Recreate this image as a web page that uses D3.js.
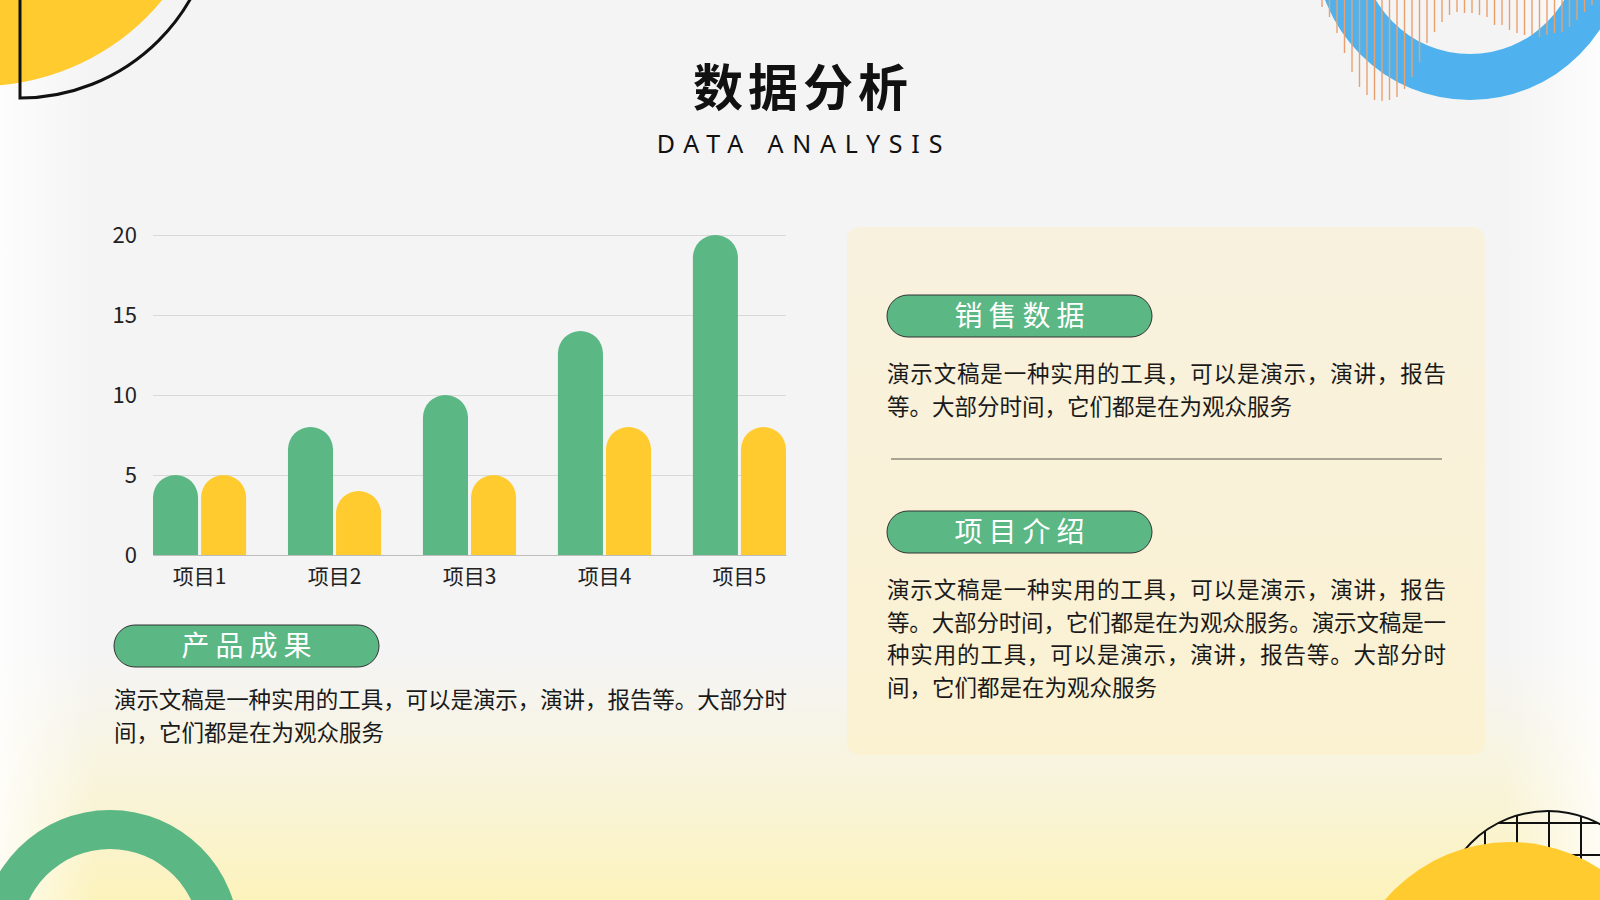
<!DOCTYPE html>
<html>
<head>
<meta charset="utf-8">
<script src="https://cdn.jsdelivr.net/npm/d3@7"></script>
<style>
  html, body { margin: 0; padding: 0; background: #f5f5f5; }
  svg { display: block; }
</style>
</head>
<body>
<svg width="1600" height="900"></svg>
<script>
"use strict";

// chart data
var categories = ["项目1", "项目2", "项目3", "项目4", "项目5"];
var seriesKeys = ["系列1", "系列2"];
var series1 = [5, 8, 10, 14, 20];
var series2 = [5, 4, 5, 8, 8];
var yTicks = [0, 5, 10, 15, 20];

// decorative stripe bottoms (top right corner)
var stripeEnds = [7, 17, 33, 53, 72, 87, 95, 100, 101, 100, 97, 89, 77, 62, 43, 32, 22, 15, 12, 13,
  13, 15, 17, 25, 25, 30, 33, 35, 35, 37, 35, 33, 32, 27, 20, 12, 5];

var para = "演示文稿是一种实用的工具，可以是演示，演讲，报告等。大部分时间，它们都是在为观众服务";

var green = "#5bb784", yellow = "#ffcb2f", blue = "#4fb2ee";
var cjk = "'Noto Sans CJK SC', 'Noto Sans', sans-serif";

var svg = d3.select("svg");

/* background */
var defs = svg.append("defs");
var bg = defs.append("linearGradient").attr("id", "bgGrad")
  .attr("x1", 0).attr("y1", 0).attr("x2", 0).attr("y2", 1);
bg.append("stop").attr("offset", "0.72").attr("stop-color", "#fff6c0").attr("stop-opacity", 0);
bg.append("stop").attr("offset", "1").attr("stop-color", "#fff2a8").attr("stop-opacity", 0.75);

var side = defs.append("linearGradient").attr("id", "sideGrad")
  .attr("x1", 0).attr("y1", 0).attr("x2", 1).attr("y2", 0);
side.append("stop").attr("offset", "0").attr("stop-color", "#ffffff").attr("stop-opacity", 0.8);
side.append("stop").attr("offset", "0.06").attr("stop-color", "#ffffff").attr("stop-opacity", 0);
side.append("stop").attr("offset", "0.94").attr("stop-color", "#ffffff").attr("stop-opacity", 0);
side.append("stop").attr("offset", "1").attr("stop-color", "#ffffff").attr("stop-opacity", 0.8);

var boxGrad = defs.append("linearGradient").attr("id", "boxGrad")
  .attr("x1", 0).attr("y1", 0).attr("x2", 0).attr("y2", 1);
boxGrad.append("stop").attr("offset", "0").attr("stop-color", "#f8f1de");
boxGrad.append("stop").attr("offset", "1").attr("stop-color", "#fbf2d2");

svg.append("rect").attr("width", 1600).attr("height", 900).attr("fill", "#f4f4f5");
svg.append("rect").attr("width", 1600).attr("height", 900).attr("fill", "url(#bgGrad)");
svg.append("rect").attr("width", 1600).attr("height", 900).attr("fill", "url(#sideGrad)");

/* corner decorations */
svg.append("circle").attr("cx", -20).attr("cy", -150).attr("r", 236).attr("fill", yellow);
svg.append("path")
  .attr("d", "M20,-5 L20,98 A196,196 0 0 0 216,-98")
  .attr("fill", "none").attr("stroke", "#111").attr("stroke-width", 3);

var ring = d3.arc();
svg.append("path")
  .attr("transform", "translate(1470,-55)")
  .attr("d", ring({innerRadius: 109, outerRadius: 155, startAngle: 0, endAngle: 2 * Math.PI}))
  .attr("fill", blue);

svg.append("g").selectAll("line")
  .data(stripeEnds)
  .enter().append("line")
    .attr("x1", function(d, i) { return 1322 + i * 7.5; })
    .attr("x2", function(d, i) { return 1322 + i * 7.5; })
    .attr("y1", 0)
    .attr("y2", function(d) { return d; })
    .attr("stroke", "#eaa06e").attr("stroke-width", 1.4);

svg.append("path")
  .attr("transform", "translate(110,939)")
  .attr("d", ring({innerRadius: 90, outerRadius: 129, startAngle: 0, endAngle: 2 * Math.PI}))
  .attr("fill", green);

// grid globe bottom right
defs.append("clipPath").attr("id", "globeClip")
  .append("circle").attr("cx", 1548).attr("cy", 920).attr("r", 109);
var globe = svg.append("g").attr("clip-path", "url(#globeClip)");
d3.range(1485, 1660, 32).forEach(function(x) {
  globe.append("line").attr("x1", x).attr("x2", x).attr("y1", 800).attr("y2", 900)
    .attr("stroke", "#111").attr("stroke-width", 2);
});
d3.range(823, 900, 32).forEach(function(y) {
  globe.append("line").attr("x1", 1430).attr("x2", 1600).attr("y1", y).attr("y2", y)
    .attr("stroke", "#111").attr("stroke-width", 2);
});
svg.append("circle").attr("cx", 1548).attr("cy", 920).attr("r", 109)
  .attr("fill", "none").attr("stroke", "#111").attr("stroke-width", 2);
svg.append("circle").attr("cx", 1510).attr("cy", 1006).attr("r", 164).attr("fill", yellow);

/* title */
svg.append("text")
  .attr("x", 800 + 3).attr("y", 106)
  .attr("text-anchor", "middle")
  .attr("font-family", cjk).attr("font-weight", "bold")
  .attr("font-size", 50).attr("letter-spacing", 5)
  .attr("fill", "#111")
  .text("数据分析");
svg.append("text")
  .attr("x", 800 + 4).attr("y", 153)
  .attr("text-anchor", "middle")
  .attr("font-family", "'Noto Sans', Roboto, sans-serif")
  .attr("font-size", 25).attr("letter-spacing", 8.8)
  .attr("fill", "#111")
  .text("DATA ANALYSIS");

/* bar chart */
var x0 = d3.scaleBand().domain(categories).range([153, 786]).paddingInner(0.31).paddingOuter(0);
var x1 = d3.scaleBand().domain(seriesKeys).range([0, x0.bandwidth()]).paddingInner(0.0625);
var y = d3.scaleLinear().domain([0, 20]).range([555, 235]);
var z = d3.scaleOrdinal().domain(seriesKeys).range([green, yellow]);

var chart = svg.append("g");

chart.append("g")
  .call(d3.axisLeft(y).tickValues(yTicks).tickSize(-(786 - 153)).tickPadding(16))
  .attr("transform", "translate(153,0)")
  .call(function(g) {
    g.select(".domain").remove();
    g.selectAll(".tick line").attr("stroke", "#d8d8d8");
    g.selectAll(".tick text").attr("font-family", cjk).attr("font-size", 22).attr("fill", "#222");
  });

var rows = categories.map(function(c, i) { return {cat: c, values: [series1[i], series2[i]]}; });

function roundTop(xp, w, y0, y1) {
  var r = Math.min(w / 2, y0 - y1);
  return "M" + xp + "," + y0 + "V" + (y1 + r) +
    "A" + r + "," + r + " 0 0 1 " + (xp + w) + "," + (y1 + r) +
    "V" + y0 + "Z";
}

chart.append("g")
  .selectAll("g")
  .data(rows)
  .enter().append("g")
    .attr("transform", function(d) { return "translate(" + x0(d.cat) + ",0)"; })
  .selectAll("path")
  .data(function(d) { return d.values.map(function(v, k) { return {key: seriesKeys[k], value: v}; }); })
  .enter().append("path")
    .attr("d", function(d) { return roundTop(x1(d.key), x1.bandwidth(), y(0), y(d.value)); })
    .attr("fill", function(d) { return z(d.key); });

chart.append("g")
  .attr("transform", "translate(0," + y(0) + ")")
  .call(d3.axisBottom(x0).tickSize(0).tickPadding(14))
  .call(function(g) {
    g.select(".domain").attr("stroke", "#bdbdbd");
    g.selectAll(".tick text").attr("font-family", cjk).attr("font-size", 21).attr("fill", "#222");
  });

/* text blocks */
function pill(xp, yp, label) {
  var g = svg.append("g").attr("transform", "translate(" + xp + "," + yp + ")");
  g.append("rect").attr("width", 265).attr("height", 42).attr("rx", 21)
    .attr("fill", green).attr("stroke", "#333").attr("stroke-width", 1);
  g.append("text").attr("x", 132.5 + 3).attr("y", 31)
    .attr("text-anchor", "middle")
    .attr("font-family", cjk).attr("font-size", 28).attr("letter-spacing", 6)
    .attr("fill", "#fff")
    .text(label);
}

// full lines are stretched to the block width, the last one is left as is
function lines(xp, yp, width, arr) {
  var t = svg.append("text").attr("font-family", cjk).attr("font-size", 22.5).attr("fill", "#1a1a1a");
  arr.forEach(function(s, i) {
    var ts = t.append("tspan").attr("x", xp).attr("y", yp + i * 32.5).text(s);
    if (i < arr.length - 1) ts.attr("textLength", width).attr("lengthAdjust", "spacing");
  });
}

pill(114, 625, "产品成果");
lines(114, 708, 673, [para.slice(0, 30), para.slice(30)]);

svg.append("rect").attr("x", 847).attr("y", 227).attr("width", 638).attr("height", 528)
  .attr("rx", 12).attr("fill", "url(#boxGrad)");

pill(887, 295, "销售数据");
lines(887, 382, 559, [para.slice(0, 24), para.slice(24)]);

svg.append("line").attr("x1", 891).attr("x2", 1442).attr("y1", 459).attr("y2", 459)
  .attr("stroke", "#8f8a7c").attr("stroke-width", 1.5);

pill(887, 511, "项目介绍");
var longPara = para + "。" + para;
lines(887, 598, 559, [longPara.slice(0, 24), longPara.slice(24, 49), longPara.slice(49, 73), longPara.slice(73)]);
</script>
</body>
</html>
